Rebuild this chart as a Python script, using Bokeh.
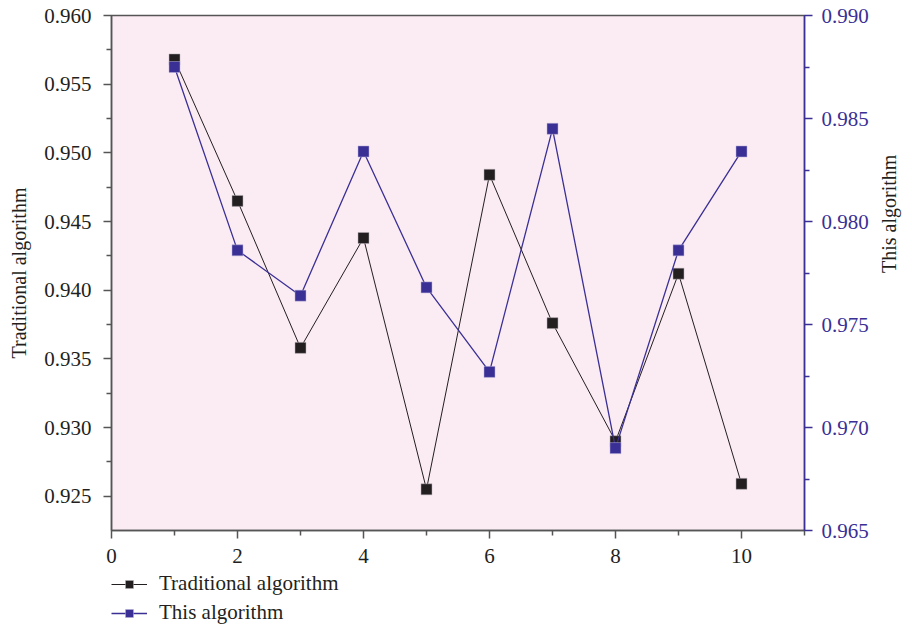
import math
from bokeh.plotting import figure
from bokeh.layouts import column
from bokeh.models import Range1d, LinearAxis, Legend, LegendItem, FixedTicker, CustomJSTickFormatter
from bokeh.embed import file_html
from bokeh.resources import INLINE

x = [1, 2, 3, 4, 5, 6, 7, 8, 9, 10]
traditional = [0.9568, 0.9465, 0.9358, 0.9438, 0.9255, 0.9484, 0.9376, 0.9290, 0.9412, 0.9259]
this_alg = [0.9875, 0.9786, 0.9764, 0.9834, 0.9768, 0.9727, 0.9845, 0.9690, 0.9786, 0.9834]

left_ticks = [0.925, 0.930, 0.935, 0.940, 0.945, 0.950, 0.955, 0.960]
right_ticks = [0.965, 0.970, 0.975, 0.980, 0.985, 0.990]
x_ticks = [0, 2, 4, 6, 8, 10]

FONT = "Liberation Serif"
BLACK = "#231F20"
BLUE = "#3A2F95"
AXG = "#555555"

p = figure(frame_width=693, frame_height=515, output_backend="svg", toolbar_location=None,
           x_range=Range1d(0, 11), y_range=Range1d(0.9225, 0.960),
           min_border_left=111, min_border_right=100, min_border_top=15, min_border_bottom=40)
p.extra_y_ranges = {"right": Range1d(0.965, 0.990)}
p.background_fill_color = "#FBEBF3"
p.border_fill_color = "white"
p.outline_line_color = AXG
p.outline_line_width = 1.5
p.grid.visible = False

def style_axis(ax, color, ticks, minor):
    ax.ticker = FixedTicker(ticks=ticks, minor_ticks=minor)
    ax.axis_line_color = color
    ax.axis_line_width = 1.5
    ax.major_tick_line_color = color
    ax.minor_tick_line_color = color
    ax.major_tick_line_width = 1.5
    ax.minor_tick_line_width = 1.5
    ax.major_tick_out = 8
    ax.major_tick_in = 0
    ax.minor_tick_out = 5
    ax.minor_tick_in = 0
    ax.major_label_text_font = FONT
    ax.major_label_text_font_size = "21px"
    ax.major_label_text_color = color
    ax.axis_label_text_font = FONT
    ax.axis_label_text_font_size = "20px"
    ax.axis_label_text_font_style = "normal"
    ax.axis_label_text_color = BLACK

xa = p.xaxis[0]
style_axis(xa, AXG, x_ticks, [1, 3, 5, 7, 9, 11])
xa.major_label_text_color = BLACK
xa.major_label_standoff = 10

ya = p.yaxis[0]
style_axis(ya, AXG, left_ticks, [0.9275, 0.9325, 0.9375, 0.9425, 0.9475, 0.9525, 0.9575])
ya.major_label_text_color = BLACK
ya.major_label_standoff = 12
ya.axis_label = "Traditional algorithm"
ya.axis_label_standoff = 11
ya.formatter = CustomJSTickFormatter(code="return tick.toFixed(3);")

ra = LinearAxis(y_range_name="right")
style_axis(ra, BLUE, right_ticks, [0.9675, 0.9725, 0.9775, 0.9825, 0.9875])
ra.axis_label = "This algorithm"
ra.axis_label_standoff = 17
ra.major_label_standoff = 9
ra.formatter = CustomJSTickFormatter(code="return tick.toFixed(3);")
try:
    ra.axis_label_orientation = math.pi / 2
except Exception:
    pass
p.add_layout(ra, "right")

p.line(x, traditional, line_color=BLACK, line_width=1)
p.scatter(x, traditional, marker="square", size=11, fill_color=BLACK, line_color="#b9b0b8", line_width=0.5)
p.line(x, this_alg, y_range_name="right", line_color=BLUE, line_width=1.3)
p.scatter(x, this_alg, y_range_name="right", marker="square", size=11, fill_color=BLUE, line_color="#b9b0d8", line_width=0.5)

# legend strip below the chart (series drawn out of view, only used for legend glyphs)
lg = figure(width=600, height=60, output_backend="svg", toolbar_location=None,
            x_range=Range1d(100, 101), y_range=Range1d(0, 1),
            x_axis_type=None, y_axis_type=None, min_border=0)
lg.outline_line_color = None
lg.grid.visible = False
lg.background_fill_color = "white"
lg.border_fill_color = "white"
a1 = lg.line(x, traditional, line_color=BLACK, line_width=1)
b1 = lg.scatter(x, traditional, marker="square", size=11, fill_color=BLACK, line_color="#b9b0b8", line_width=0.5)
a2 = lg.line(x, this_alg, line_color=BLUE, line_width=1.3)
b2 = lg.scatter(x, this_alg, marker="square", size=11, fill_color=BLUE, line_color="#b9b0d8", line_width=0.5)

legend = Legend(items=[LegendItem(label="Traditional algorithm", renderers=[a1, b1]),
                       LegendItem(label="This algorithm", renderers=[a2, b2])],
                orientation="vertical", location=(0, 5),
                label_text_font=FONT, label_text_font_size="21px", label_text_color=BLACK,
                border_line_color=None, background_fill_alpha=0,
                glyph_width=36, glyph_height=20, spacing=4, padding=0, margin=0,
                label_standoff=12)
lg.add_layout(legend, "center")

layout = column(p, lg, spacing=0)
open("out.html", "w").write(file_html(layout, INLINE))
